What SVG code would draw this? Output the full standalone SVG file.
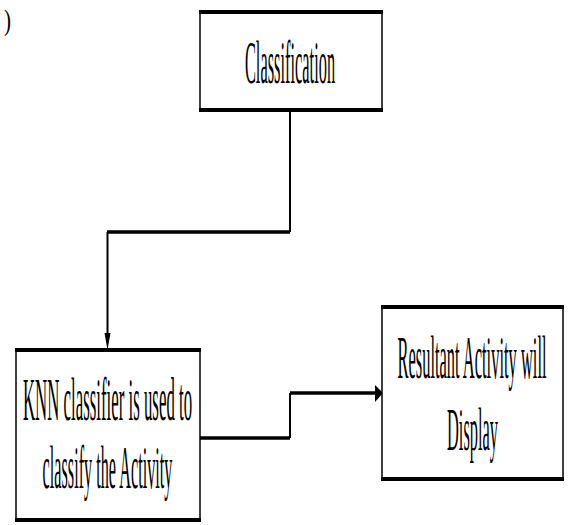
<svg xmlns="http://www.w3.org/2000/svg" width="570" height="525" viewBox="0 0 570 525">
<style>
.box{fill:#fff;stroke:#000;stroke-width:1.5}
.band{stroke:#000;stroke-width:4;fill:none}
.lbl{font-family:"Liberation Serif","Times New Roman",serif;font-size:61px;fill:#000;text-anchor:middle}
.thin{stroke:#000;stroke-width:2;fill:none}
.thick{stroke:#000;stroke-width:3.5;fill:none}
</style>
<text transform="translate(4,30) scale(0.7,1)" style="font-family:'Liberation Serif','Times New Roman',serif;font-size:30px">)</text>
<g id="connectors">
<path class="thin" d="M290,112 V232"/>
<path class="thick" d="M290,232 H107"/>
<path class="thin" d="M107.5,232 V336"/>
<path d="M104.5,333 L110.5,333 L107.5,350 Z" fill="#000"/>
<path class="thick" d="M200,438 H290"/>
<path class="thin" d="M290,438 V393"/>
<path class="thick" d="M290,393 H376"/>
<path d="M375,385 L383,393 L375,402 Z" fill="#000"/>
</g>
<g id="classification">
<rect class="box" x="200" y="12" width="182" height="98"/>
<line class="band" x1="199" y1="12" x2="383" y2="12"/>
<line class="band" x1="199" y1="110" x2="383" y2="110"/>
<text class="lbl" transform="translate(290,83) scale(0.269,1)">Classification</text>
</g>
<g id="knn">
<rect class="box" x="16" y="350" width="184" height="170"/>
<line class="band" x1="15" y1="350" x2="201" y2="350"/>
<line class="band" x1="15" y1="520" x2="201" y2="520"/>
<text class="lbl" transform="translate(107.5,420) scale(0.276,1)">KNN classifier is used to</text>
<text class="lbl" transform="translate(107.5,488) scale(0.266,1)">classify the Activity</text>
</g>
<g id="result">
<rect class="box" x="382" y="307" width="181" height="172"/>
<line class="band" x1="381" y1="307" x2="564" y2="307"/>
<line class="band" x1="381" y1="479" x2="564" y2="479"/>
<text class="lbl" transform="translate(472,378) scale(0.27,1)">Resultant Activity will</text>
<text class="lbl" transform="translate(472.5,450) scale(0.269,1)">Display</text>
</g>
</svg>
